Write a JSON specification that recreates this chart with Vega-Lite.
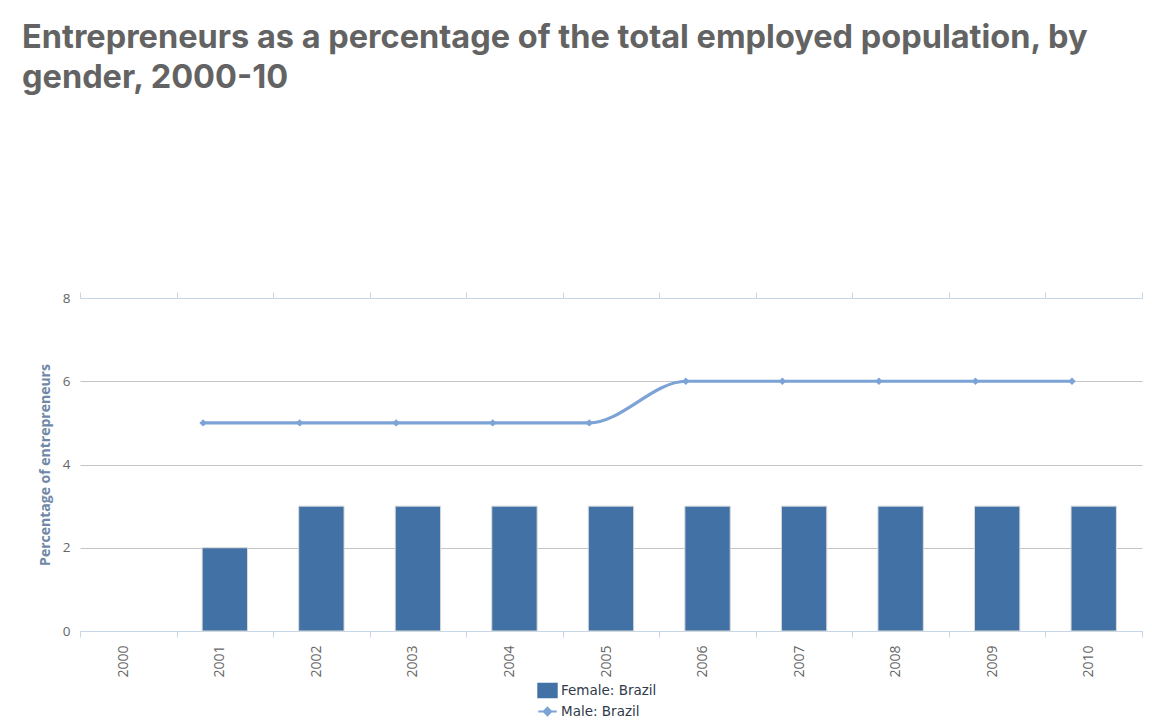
{
  "$schema": "https://vega.github.io/schema/vega-lite/v6.json",
  "width": 1062,
  "height": 333,
  "autosize": {"type": "none"},
  "padding": {"left": 80, "top": 298, "right": 10, "bottom": 92},
  "background": "white",
  "title": {
    "text": ["Entrepreneurs as a percentage of the total employed population, by", "gender, 2000-10"],
    "anchor": "start",
    "frame": "group",
    "dx": -58,
    "offset": 197,
    "font": "Inter",
    "fontSize": 32.5,
    "fontWeight": "bold",
    "color": "#636363",
    "lineHeight": 40
  },
  "data": {
    "values": [
      {"year": 2000, "series": "Female: Brazil", "value": null},
      {"year": 2001, "series": "Female: Brazil", "value": 2},
      {"year": 2002, "series": "Female: Brazil", "value": 3},
      {"year": 2003, "series": "Female: Brazil", "value": 3},
      {"year": 2004, "series": "Female: Brazil", "value": 3},
      {"year": 2005, "series": "Female: Brazil", "value": 3},
      {"year": 2006, "series": "Female: Brazil", "value": 3},
      {"year": 2007, "series": "Female: Brazil", "value": 3},
      {"year": 2008, "series": "Female: Brazil", "value": 3},
      {"year": 2009, "series": "Female: Brazil", "value": 3},
      {"year": 2010, "series": "Female: Brazil", "value": 3},
      {"year": 2000, "series": "Male: Brazil", "value": null},
      {"year": 2001, "series": "Male: Brazil", "value": 5},
      {"year": 2002, "series": "Male: Brazil", "value": 5},
      {"year": 2003, "series": "Male: Brazil", "value": 5},
      {"year": 2004, "series": "Male: Brazil", "value": 5},
      {"year": 2005, "series": "Male: Brazil", "value": 5},
      {"year": 2006, "series": "Male: Brazil", "value": 6},
      {"year": 2007, "series": "Male: Brazil", "value": 6},
      {"year": 2008, "series": "Male: Brazil", "value": 6},
      {"year": 2009, "series": "Male: Brazil", "value": 6},
      {"year": 2010, "series": "Male: Brazil", "value": 6}
    ]
  },
  "encoding": {
    "y": {
      "field": "value",
      "type": "quantitative",
      "scale": {"domain": [0, 8]},
      "axis": {
        "values": [0, 2, 4, 6, 8],
        "title": "Percentage of entrepreneurs",
        "titleFont": "Open Sans",
        "titleFontSize": 14,
        "titleFontWeight": "bold",
        "titleColor": "#6f88a8",
        "titlePadding": 10,
        "labelFont": "Open Sans",
        "labelFontSize": 13.5,
        "labelColor": "#666666",
        "labelPadding": 10,
        "domain": false,
        "ticks": false,
        "grid": true,
        "gridColor": {"condition": {"test": "datum.value == 8", "value": "#c6d6e6"}, "value": "#c4c4c4"}
      }
    },
    "color": {
      "field": "series",
      "type": "nominal",
      "scale": {"domain": ["Female: Brazil", "Male: Brazil"], "range": ["#4271a5", "#7ca3d5"]},
      "legend": {
        "orient": "none",
        "legendX": 458,
        "legendY": 383,
        "title": null,
        "direction": "vertical",
        "labelFont": "DejaVu Sans",
        "labelFontSize": 13.5,
        "labelColor": "#2f3b4c",
        "labelOffset": 4,
        "symbolSize": 280,
        "rowPadding": 0,
        "encode": {
          "symbols": {
            "update": {
              "shape": {"signal": "datum.value == 'Male: Brazil' ? 'M-1.1,0L1.1,0M0,-0.45L0.45,0L0,0.45L-0.45,0Z' : 'M-1.1,-0.8H1.1V0.8H-1.1Z'"},
              "fill": {"signal": "scale('color', datum.value)"},
              "stroke": {"signal": "scale('color', datum.value)"},
              "strokeWidth": {"value": 2},
              "opacity": {"value": 1}
            }
          }
        }
      }
    }
  },
  "layer": [
    {
      "transform": [{"filter": "datum.series == 'Female: Brazil'"}],
      "mark": {"type": "bar", "width": {"band": 0.47}, "stroke": "#dadada", "strokeWidth": 1},
      "encoding": {
        "x": {
          "field": "year",
          "type": "ordinal",
          "scale": {"domain": [2000, 2001, 2002, 2003, 2004, 2005, 2006, 2007, 2008, 2009, 2010], "paddingInner": 0, "paddingOuter": 0},
          "axis": {
            "orient": "bottom",
            "title": null,
            "labelAngle": -90,
            "labelFont": "Open Sans",
            "labelFontSize": 14,
            "labelColor": "#666666",
            "labelPadding": 8,
            "labelOffset": -5,
            "tickBand": "extent",
            "tickColor": "#c6d6e6",
            "tickSize": 6,
            "domainColor": "#c6d6e6",
            "grid": false
          }
        }
      }
    },
    {
      "transform": [{"filter": "datum.series == 'Male: Brazil'"}],
      "mark": {"type": "line", "interpolate": "monotone", "strokeWidth": 3.2},
      "encoding": {
        "x": {
          "field": "year",
          "type": "ordinal",
          "bandPosition": 0.275,
          "axis": {
            "orient": "top",
            "title": null,
            "labels": false,
            "tickBand": "extent",
            "tickColor": "#c6d6e6",
            "tickSize": 6,
            "domainColor": "#c6d6e6",
            "grid": false
          }
        }
      }
    },
    {
      "transform": [{"filter": "datum.series == 'Male: Brazil'"}],
      "mark": {"type": "point", "shape": "diamond", "filled": true, "size": 55, "opacity": 1},
      "encoding": {
        "x": {"field": "year", "type": "ordinal", "bandPosition": 0.275, "axis": null}
      }
    }
  ],
  "resolve": {"axis": {"x": "independent"}},
  "config": {"view": {"stroke": null}}
}
